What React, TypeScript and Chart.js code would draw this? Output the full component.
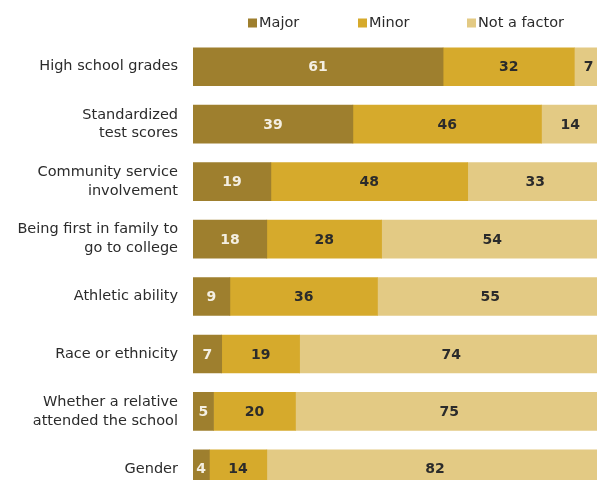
import React, { useEffect, useRef } from "react";
import { Chart, registerables } from "chart.js";

Chart.register(...registerables);

const categories: (string | string[])[] = [
  "High school grades",
  ["Standardized", "test scores"],
  ["Community service", "involvement"],
  ["Being first in family to", "go to college"],
  "Athletic ability",
  "Race or ethnicity",
  ["Whether a relative", "attended the school"],
  "Gender",
];

const major = [61, 39, 19, 18, 9, 7, 5, 4];
const minor = [32, 46, 48, 28, 36, 19, 20, 14];
const notFactor = [7, 14, 33, 54, 55, 74, 75, 82];

const seriesNames = ["Major", "Minor", "Not a factor"];
const colors = ["#9e7f2e", "#d6aa2c", "#e3ca84"];
const labelColors = ["#f4efe2", "#2b2b2b", "#2b2b2b"];

const FONT = "'DejaVu Sans', sans-serif";

const valueLabels = {
  id: "valueLabels",
  afterDatasetsDraw(chart: any) {
    const ctx = chart.ctx;
    ctx.save();
    ctx.font = `bold 14px ${FONT}`;
    ctx.textAlign = "center";
    ctx.textBaseline = "middle";
    chart.data.datasets.forEach((ds: any, di: number) => {
      const meta = chart.getDatasetMeta(di);
      meta.data.forEach((bar: any, i: number) => {
        const v = ds.data[i];
        const x = (bar.x + bar.base) / 2;
        ctx.fillStyle = labelColors[di];
        ctx.fillText(String(v), x, bar.y + 1);
      });
    });
    ctx.restore();
  },
};

const customLegend = {
  id: "customLegend",
  afterDraw(chart: any) {
    const ctx = chart.ctx;
    ctx.save();
    ctx.font = `14.5px ${FONT}`;
    ctx.textBaseline = "middle";
    ctx.textAlign = "left";
    const starts = [248, 358, 467];
    const y = 23;
    seriesNames.forEach((name, i) => {
      ctx.fillStyle = colors[i];
      ctx.fillRect(starts[i], y - 4.5, 9, 9);
      ctx.fillStyle = "#2b2b2b";
      ctx.fillText(name, starts[i] + 11, y);
    });
    ctx.restore();
  },
};

export default function App() {
  const ref = useRef<HTMLCanvasElement>(null);
  useEffect(() => {
    if (!ref.current) return;
    const chart = new Chart(ref.current, {
      type: "bar",
      data: {
        labels: categories,
        datasets: [major, minor, notFactor].map((d, i) => ({
          label: seriesNames[i],
          data: d,
          backgroundColor: colors[i],
          borderWidth: 0,
          barThickness: 38,
        })),
      },
      options: {
        indexAxis: "y",
        animation: false,
        responsive: false,
        layout: { padding: { top: 38, bottom: 6, left: 0, right: 0 } },
        plugins: {
          legend: { display: false },
          tooltip: { enabled: false },
        },
        scales: {
          x: {
            stacked: true,
            min: 0,
            max: 100,
            display: false,
          },
          y: {
            stacked: true,
            grid: { display: false },
            border: { display: false },
            afterFit: (scale: any) => {
              scale.width = 193;
            },
            ticks: {
              padding: 7,
              color: "#2b2b2b",
              font: { family: FONT, size: 14.5, lineHeight: 1.3 },
            },
          },
        },
      },
      plugins: [valueLabels, customLegend],
    });
    return () => chart.destroy();
  }, []);

  return (
    <div style={{ position: "fixed", top: 0, left: 0, width: 597, height: 480, overflow: "hidden", background: "#fff" }}>
      <canvas ref={ref} width={603} height={514} style={{ display: "block" }} />
    </div>
  );
}
